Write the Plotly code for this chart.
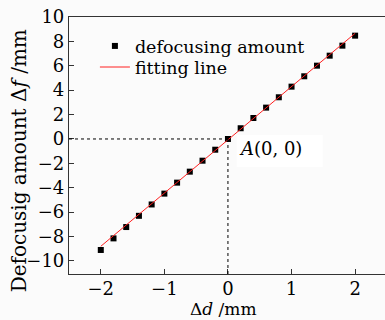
import plotly.graph_objects as go

delta_d = [-2.0, -1.8, -1.6, -1.4, -1.2, -1.0, -0.8, -0.6, -0.4, -0.2, 0.0,
           0.2, 0.4, 0.6, 0.8, 1.0, 1.2, 1.4, 1.6, 1.8, 2.0]
defocus = [-9.1, -8.15, -7.22, -6.3, -5.37, -4.48, -3.58, -2.68, -1.78, -0.88, 0.0,
           0.88, 1.72, 2.57, 3.42, 4.29, 5.14, 6.01, 6.83, 7.65, 8.47]
fit_x = [-2.0, 2.0]
fit_y = [-8.8, 8.66]
x_ticks = [-2, -1, 0, 1, 2]
y_ticks = [-10, -8, -6, -4, -2, 0, 2, 4, 6, 8, 10]

FONT = "DejaVu Serif"
BG = "#fbfbfb"

fig = go.Figure()
fig.add_trace(go.Scatter(x=delta_d, y=defocus, mode="markers", name="defocusing amount",
                         legend="legend",
                         marker=dict(symbol="square", size=6, color="black", line=dict(width=0))))
fig.add_trace(go.Scatter(x=fit_x, y=fit_y, mode="lines", name="fitting line",
                         legend="legend2",
                         line=dict(color="#ff2020", width=1)))

# reference dashed lines to origin
fig.add_shape(type="line", x0=-2.5, x1=0, y0=0, y1=0, line=dict(color="black", width=1, dash="3px,3px"))
fig.add_shape(type="line", x0=0, x1=0, y0=-11.07, y1=0, line=dict(color="black", width=1, dash="3px,3px"))
# white label box
fig.add_shape(type="rect", x0=0.137, x1=1.49, y0=-2.3, y1=0.33, fillcolor="white",
              line=dict(width=0), layer="below")
fig.add_annotation(x=0.14, y=-0.75, xanchor="left", yanchor="middle", showarrow=False,
                   text="<i>A</i>(0, 0)", font=dict(family=FONT, size=18, color="black"))

# axis titles
fig.add_annotation(xref="paper", yref="paper", x=-0.16, y=0.44, xanchor="center", yanchor="middle",
                   showarrow=False, textangle=-90,
                   text="Defocusig amount Δ<i>f</i> /mm", font=dict(family=FONT, size=20, color="black"))
fig.add_annotation(xref="paper", yref="paper", x=0.49, y=-0.178, xanchor="center", yanchor="bottom",
                   showarrow=False, borderpad=0,
                   text="Δ<i>d</i> /mm", font=dict(family=FONT, size=17, color="black"))

leg_common = dict(xanchor="left", yanchor="top", bgcolor="rgba(0,0,0,0)",
                  font=dict(family=FONT, size=17.5))
fig.update_layout(
    width=385, height=320,
    margin=dict(l=69, r=0, t=17, b=46, autoexpand=False),
    paper_bgcolor=BG, plot_bgcolor=BG,
    font=dict(family=FONT, size=18, color="black"),
    showlegend=True,
    legend=dict(x=0.082, y=0.957, **leg_common),
    legend2=dict(x=0.082, y=0.875, **leg_common),
)
fig.update_xaxes(range=[-2.5, 2.47], tickvals=x_ticks, ticks="inside", ticklen=5,
                 tickcolor="#333", showline=True, linecolor="#333", linewidth=1.2, mirror=True,
                 showgrid=False, zeroline=False, automargin=False, ticklabelstandoff=-2)
fig.update_yaxes(range=[-11.07, 10], tickvals=y_ticks, ticks="inside", ticklen=5,
                 tickcolor="#333", showline=True, linecolor="#333", linewidth=1.2,
                 showgrid=False, zeroline=False, automargin=False)

fig.write_html("out.html", config={"displayModeBar": False},
               post_script="document.body.style.margin='0px';")
